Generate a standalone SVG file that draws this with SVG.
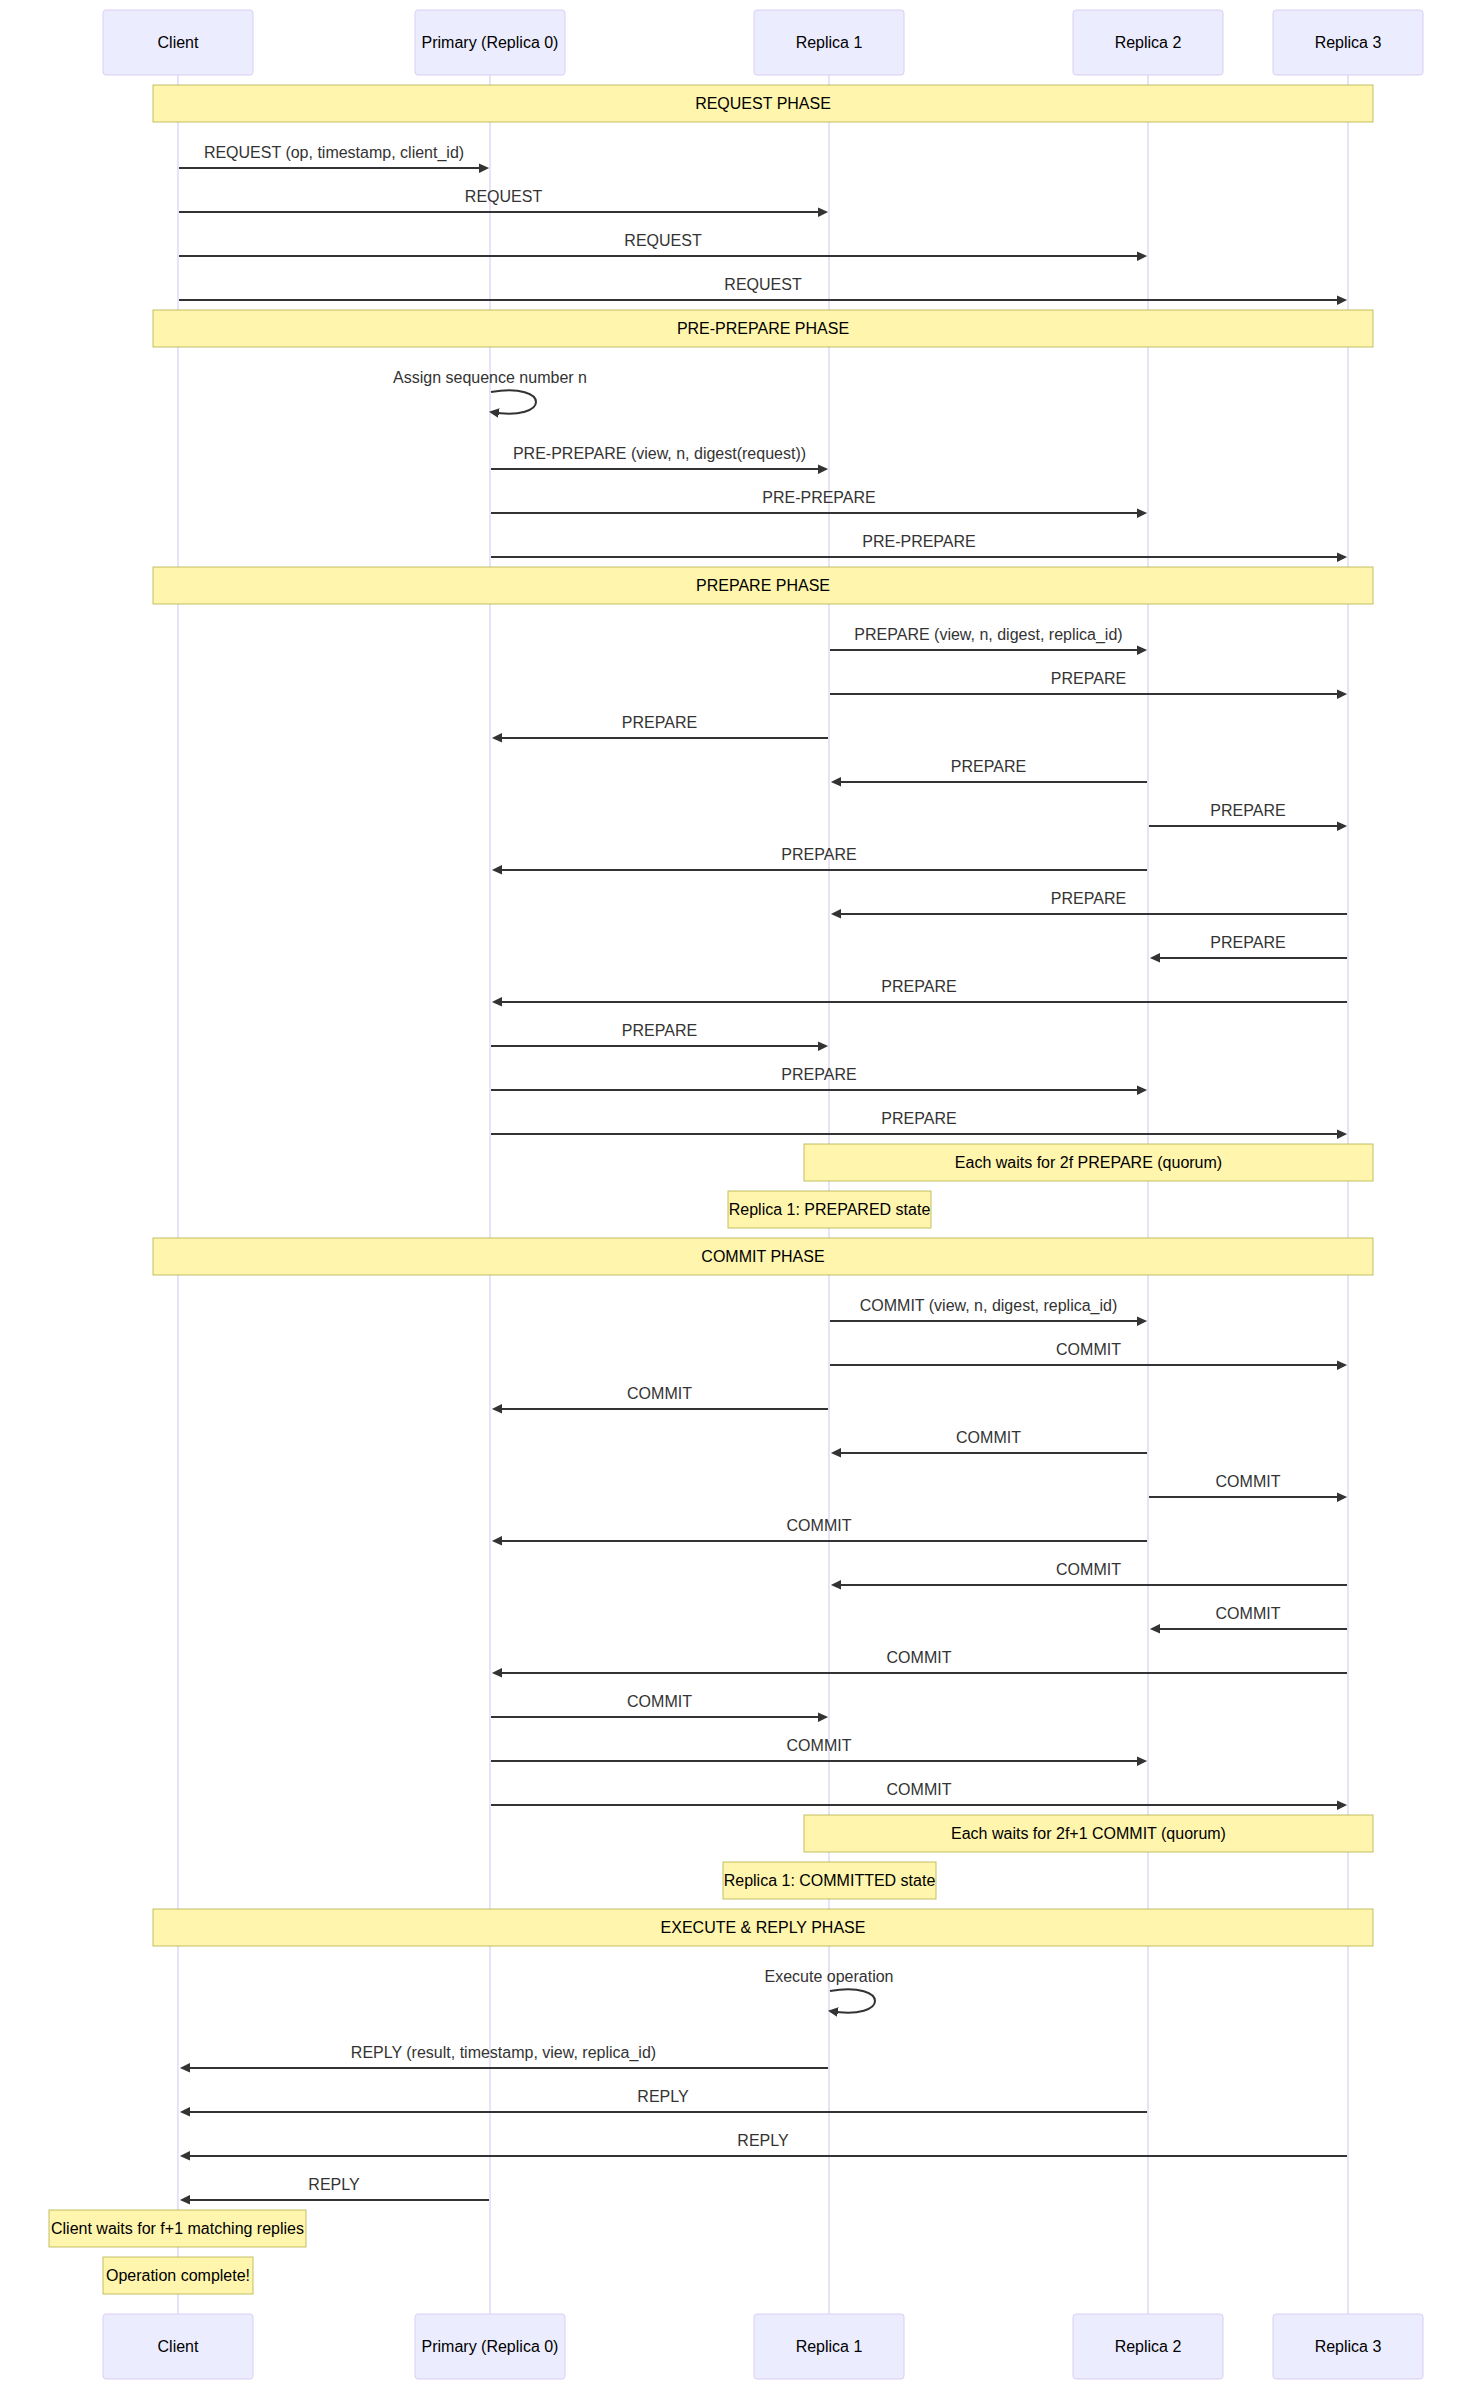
<svg xmlns="http://www.w3.org/2000/svg" width="1473" height="2390" viewBox="0 0 1473 2390">
<style>
text{font-family:"Liberation Sans",Arial,Helvetica,sans-serif;font-size:16px;text-anchor:middle;dominant-baseline:central}
.actor{fill:#ECECFF;stroke:hsl(259.6,59.8%,87.9%);stroke-width:1}
.atext{fill:#000}
.life{stroke:hsl(259.6,59.8%,87.9%);stroke-width:1.2}
.note{fill:#fff5ad;stroke:#aaaa33;stroke-width:1;stroke-opacity:0.7}
.ntext{fill:#000}
.msg{stroke:#333;stroke-width:2;fill:none;marker-end:url(#arrowhead)}
.mtext{fill:#333}
</style>
<defs>
<marker id="arrowhead" refX="7.9" refY="5" markerUnits="userSpaceOnUse" markerWidth="12" markerHeight="12" orient="auto"><path d="M -1 0 L 10 5 L 0 10 z" fill="#333" stroke="none"/></marker>
</defs>
<rect width="1473" height="2390" fill="#fff"/>
<g id="lifelines">
<line class="life" x1="178" y1="75" x2="178" y2="2314"/>
<line class="life" x1="490" y1="75" x2="490" y2="2314"/>
<line class="life" x1="829" y1="75" x2="829" y2="2314"/>
<line class="life" x1="1148" y1="75" x2="1148" y2="2314"/>
<line class="life" x1="1348" y1="75" x2="1348" y2="2314"/>
</g>
<g id="actor-client"><rect class="actor" x="103" y="10" width="150" height="65" rx="3"/><text class="atext" x="178" y="42.5">Client</text></g>
<g id="actor-primary"><rect class="actor" x="415" y="10" width="150" height="65" rx="3"/><text class="atext" x="490" y="42.5">Primary (Replica 0)</text></g>
<g id="actor-replica1"><rect class="actor" x="754" y="10" width="150" height="65" rx="3"/><text class="atext" x="829" y="42.5">Replica 1</text></g>
<g id="actor-replica2"><rect class="actor" x="1073" y="10" width="150" height="65" rx="3"/><text class="atext" x="1148" y="42.5">Replica 2</text></g>
<g id="actor-replica3"><rect class="actor" x="1273" y="10" width="150" height="65" rx="3"/><text class="atext" x="1348" y="42.5">Replica 3</text></g>
<g id="actor-client-bottom"><rect class="actor" x="103" y="2314" width="150" height="65" rx="3"/><text class="atext" x="178" y="2346.5">Client</text></g>
<g id="actor-primary-bottom"><rect class="actor" x="415" y="2314" width="150" height="65" rx="3"/><text class="atext" x="490" y="2346.5">Primary (Replica 0)</text></g>
<g id="actor-replica1-bottom"><rect class="actor" x="754" y="2314" width="150" height="65" rx="3"/><text class="atext" x="829" y="2346.5">Replica 1</text></g>
<g id="actor-replica2-bottom"><rect class="actor" x="1073" y="2314" width="150" height="65" rx="3"/><text class="atext" x="1148" y="2346.5">Replica 2</text></g>
<g id="actor-replica3-bottom"><rect class="actor" x="1273" y="2314" width="150" height="65" rx="3"/><text class="atext" x="1348" y="2346.5">Replica 3</text></g>
<g id="note-request-phase"><rect class="note" x="153" y="85" width="1220" height="37"/><text class="ntext" x="763" y="103.5">REQUEST PHASE</text></g>
<g id="note-preprepare-phase"><rect class="note" x="153" y="310" width="1220" height="37"/><text class="ntext" x="763" y="328.5">PRE-PREPARE PHASE</text></g>
<g id="note-prepare-phase"><rect class="note" x="153" y="567" width="1220" height="37"/><text class="ntext" x="763" y="585.5">PREPARE PHASE</text></g>
<g id="note-prepare-quorum"><rect class="note" x="804" y="1144" width="569" height="37"/><text class="ntext" x="1088.5" y="1162.5">Each waits for 2f PREPARE (quorum)</text></g>
<g id="note-prepared"><rect class="note" x="728" y="1191" width="203" height="37"/><text class="ntext" x="829.5" y="1209.5">Replica 1: PREPARED state</text></g>
<g id="note-commit-phase"><rect class="note" x="153" y="1238" width="1220" height="37"/><text class="ntext" x="763" y="1256.5">COMMIT PHASE</text></g>
<g id="note-commit-quorum"><rect class="note" x="804" y="1815" width="569" height="37"/><text class="ntext" x="1088.5" y="1833.5">Each waits for 2f+1 COMMIT (quorum)</text></g>
<g id="note-committed"><rect class="note" x="723" y="1862" width="213" height="37"/><text class="ntext" x="829.5" y="1880.5">Replica 1: COMMITTED state</text></g>
<g id="note-execute-phase"><rect class="note" x="153" y="1909" width="1220" height="37"/><text class="ntext" x="763" y="1927.5">EXECUTE &amp; REPLY PHASE</text></g>
<g id="note-client-waits"><rect class="note" x="49" y="2210" width="257" height="37"/><text class="ntext" x="177.5" y="2228.5">Client waits for f+1 matching replies</text></g>
<g id="note-complete"><rect class="note" x="103" y="2257" width="150" height="37"/><text class="ntext" x="178" y="2275.5">Operation complete!</text></g>
<g id="connectors">
<text class="mtext" x="334" y="152">REQUEST (op, timestamp, client_id)</text><line class="msg" x1="179" y1="168" x2="487" y2="168"/>
<text class="mtext" x="503.5" y="196">REQUEST</text><line class="msg" x1="179" y1="212" x2="826" y2="212"/>
<text class="mtext" x="663" y="240">REQUEST</text><line class="msg" x1="179" y1="256" x2="1145" y2="256"/>
<text class="mtext" x="763" y="284">REQUEST</text><line class="msg" x1="179" y1="300" x2="1345" y2="300"/>
<text class="mtext" x="490" y="377">Assign sequence number n</text><path class="msg" d="M 491,392 C 551,382 551,422 491,412"/>
<text class="mtext" x="659.5" y="453">PRE-PREPARE (view, n, digest(request))</text><line class="msg" x1="491" y1="469" x2="826" y2="469"/>
<text class="mtext" x="819" y="497">PRE-PREPARE</text><line class="msg" x1="491" y1="513" x2="1145" y2="513"/>
<text class="mtext" x="919" y="541">PRE-PREPARE</text><line class="msg" x1="491" y1="557" x2="1345" y2="557"/>
<text class="mtext" x="988.5" y="634">PREPARE (view, n, digest, replica_id)</text><line class="msg" x1="830" y1="650" x2="1145" y2="650"/>
<text class="mtext" x="1088.5" y="678">PREPARE</text><line class="msg" x1="830" y1="694" x2="1345" y2="694"/>
<text class="mtext" x="659.5" y="722">PREPARE</text><line class="msg" x1="828" y1="738" x2="494" y2="738"/>
<text class="mtext" x="988.5" y="766">PREPARE</text><line class="msg" x1="1147" y1="782" x2="833" y2="782"/>
<text class="mtext" x="1248" y="810">PREPARE</text><line class="msg" x1="1149" y1="826" x2="1345" y2="826"/>
<text class="mtext" x="819" y="854">PREPARE</text><line class="msg" x1="1147" y1="870" x2="494" y2="870"/>
<text class="mtext" x="1088.5" y="898">PREPARE</text><line class="msg" x1="1347" y1="914" x2="833" y2="914"/>
<text class="mtext" x="1248" y="942">PREPARE</text><line class="msg" x1="1347" y1="958" x2="1152" y2="958"/>
<text class="mtext" x="919" y="986">PREPARE</text><line class="msg" x1="1347" y1="1002" x2="494" y2="1002"/>
<text class="mtext" x="659.5" y="1030">PREPARE</text><line class="msg" x1="491" y1="1046" x2="826" y2="1046"/>
<text class="mtext" x="819" y="1074">PREPARE</text><line class="msg" x1="491" y1="1090" x2="1145" y2="1090"/>
<text class="mtext" x="919" y="1118">PREPARE</text><line class="msg" x1="491" y1="1134" x2="1345" y2="1134"/>
<text class="mtext" x="988.5" y="1305">COMMIT (view, n, digest, replica_id)</text><line class="msg" x1="830" y1="1321" x2="1145" y2="1321"/>
<text class="mtext" x="1088.5" y="1349">COMMIT</text><line class="msg" x1="830" y1="1365" x2="1345" y2="1365"/>
<text class="mtext" x="659.5" y="1393">COMMIT</text><line class="msg" x1="828" y1="1409" x2="494" y2="1409"/>
<text class="mtext" x="988.5" y="1437">COMMIT</text><line class="msg" x1="1147" y1="1453" x2="833" y2="1453"/>
<text class="mtext" x="1248" y="1481">COMMIT</text><line class="msg" x1="1149" y1="1497" x2="1345" y2="1497"/>
<text class="mtext" x="819" y="1525">COMMIT</text><line class="msg" x1="1147" y1="1541" x2="494" y2="1541"/>
<text class="mtext" x="1088.5" y="1569">COMMIT</text><line class="msg" x1="1347" y1="1585" x2="833" y2="1585"/>
<text class="mtext" x="1248" y="1613">COMMIT</text><line class="msg" x1="1347" y1="1629" x2="1152" y2="1629"/>
<text class="mtext" x="919" y="1657">COMMIT</text><line class="msg" x1="1347" y1="1673" x2="494" y2="1673"/>
<text class="mtext" x="659.5" y="1701">COMMIT</text><line class="msg" x1="491" y1="1717" x2="826" y2="1717"/>
<text class="mtext" x="819" y="1745">COMMIT</text><line class="msg" x1="491" y1="1761" x2="1145" y2="1761"/>
<text class="mtext" x="919" y="1789">COMMIT</text><line class="msg" x1="491" y1="1805" x2="1345" y2="1805"/>
<text class="mtext" x="829" y="1976">Execute operation</text><path class="msg" d="M 830,1991 C 890,1981 890,2021 830,2011"/>
<text class="mtext" x="503.5" y="2052">REPLY (result, timestamp, view, replica_id)</text><line class="msg" x1="828" y1="2068" x2="182" y2="2068"/>
<text class="mtext" x="663" y="2096">REPLY</text><line class="msg" x1="1147" y1="2112" x2="182" y2="2112"/>
<text class="mtext" x="763" y="2140">REPLY</text><line class="msg" x1="1347" y1="2156" x2="182" y2="2156"/>
<text class="mtext" x="334" y="2184">REPLY</text><line class="msg" x1="489" y1="2200" x2="182" y2="2200"/>
</g>
</svg>
